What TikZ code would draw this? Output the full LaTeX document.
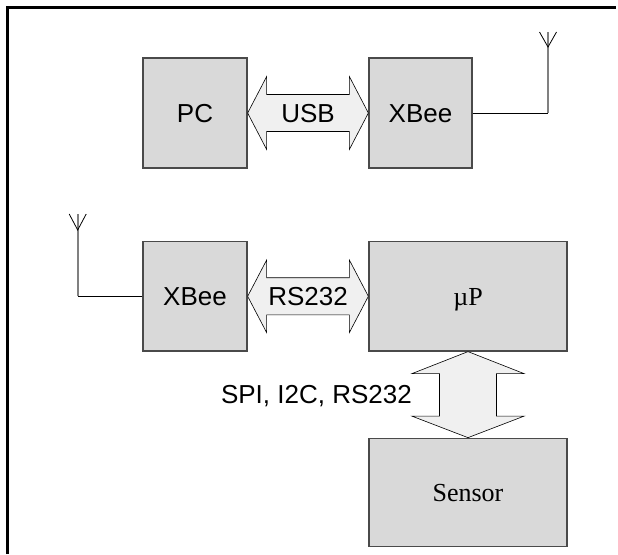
\documentclass[tikz,border=0pt]{standalone}
\usepackage{fontspec}
\setmainfont{Liberation Serif}
\setsansfont{Liberation Sans}
\usetikzlibrary{calc}
\definecolor{boxfill}{HTML}{D9D9D9}
\definecolor{boxline}{HTML}{4A4A4A}
\definecolor{arrfill}{HTML}{F0F0F0}
\definecolor{antgray}{HTML}{808080}
\tikzset{
  blk/.style={draw=boxline, fill=boxfill, line width=1.3pt, inner sep=0pt,
    text height=18.6pt, text depth=0pt, font=\fontsize{26}{30}\selectfont},
  sblk/.style={blk, font=\sffamily\fontsize{26}{30}\selectfont},
  fatarrow/.style={draw=black, fill=arrfill, line width=0.6pt, line join=miter},
  lbl/.style={inner sep=0pt, text height=18.6pt, text depth=0pt, font=\sffamily\fontsize{26}{30}\selectfont},
  wire/.style={draw=black, line width=0.8pt},
  mast/.style={draw=antgray, line width=1.6pt},
}
\begin{document}
\begin{tikzpicture}[x=1pt, y=-1pt]
\fill[white] (0,0) rectangle (618,554);
\useasboundingbox (0,0) rectangle (618,554);
% frame
\draw[line width=2.5pt] (7.5,554) -- (7.5,7.5) -- (616,7.5);

% boxes
\node[sblk, minimum width=104pt, minimum height=110pt] (pc) at (195,113) {PC};
\node[sblk, minimum width=103pt, minimum height=110pt] (xb) at (420.5,113) {XBee};
\node[sblk, minimum width=104pt, minimum height=109.3pt] (xb2) at (195,296.3) {XBee};
\node[blk, minimum width=198pt, minimum height=109.3pt] (up) at (468,296.3) {\textmu P};
\node[blk, minimum width=198pt, minimum height=108.4pt] (sen) at (468,492.5) {Sensor};

% USB double arrow
\draw[fatarrow] (pc.east) -- ++(19,-36.5) -- ++(0,18) -- ($(xb.west)+(-19,-18.5)$)
  -- ++(0,-18) -- (xb.west) -- ++(-19,36.5) -- ++(0,-18) -- ($(pc.east)+(19,18.5)$)
  -- ++(0,18) -- cycle;
\node[lbl] (usb) at ($(pc.east)!0.5!(xb.west)$) {USB};

% RS232 double arrow
\draw[fatarrow] (xb2.east) -- ++(19,-36.3) -- ++(0,17.7) -- ($(up.west)+(-19,-18.6)$)
  -- ++(0,-17.7) -- (up.west) -- ++(-19,36.3) -- ++(0,-17.7) -- ($(xb2.east)+(19,18.6)$)
  -- ++(0,17.7) -- cycle;
\node[lbl] (rs) at ($(xb2.east)!0.5!(up.west)$) {RS232};

% vertical double arrow
\draw[fatarrow] (up.south) -- ++(56,22) -- ++(-27.5,0) -- ($(sen.north)+(28.5,-21.5)$)
  -- ++(27.5,0) -- (sen.north) -- ++(-56,-21.5) -- ++(27.5,0) -- ($(up.south)+(-28.5,22)$)
  -- ++(-27.5,0) -- cycle;
\node[lbl, anchor=base east, text height=, text depth=] (spi) at (412,403) {SPI, I2C, RS232};

% antenna top
\coordinate (a1) at (548,113);
\coordinate (a1j) at (548,47);
\draw[wire] (xb.east) -- (a1);
\draw[mast] (a1) -- (548,32);
\draw[wire] (539.5,32) -- (a1j) -- (556.5,32);

% antenna bottom
\coordinate (a2) at (77.7,296.3);
\coordinate (a2j) at (77.7,230);
\draw[wire] (xb2.west) -- (a2);
\draw[mast] (a2) -- (77.7,214);
\draw[wire] (69.2,214) -- (a2j) -- (86.2,214);
\end{tikzpicture}
\end{document}
